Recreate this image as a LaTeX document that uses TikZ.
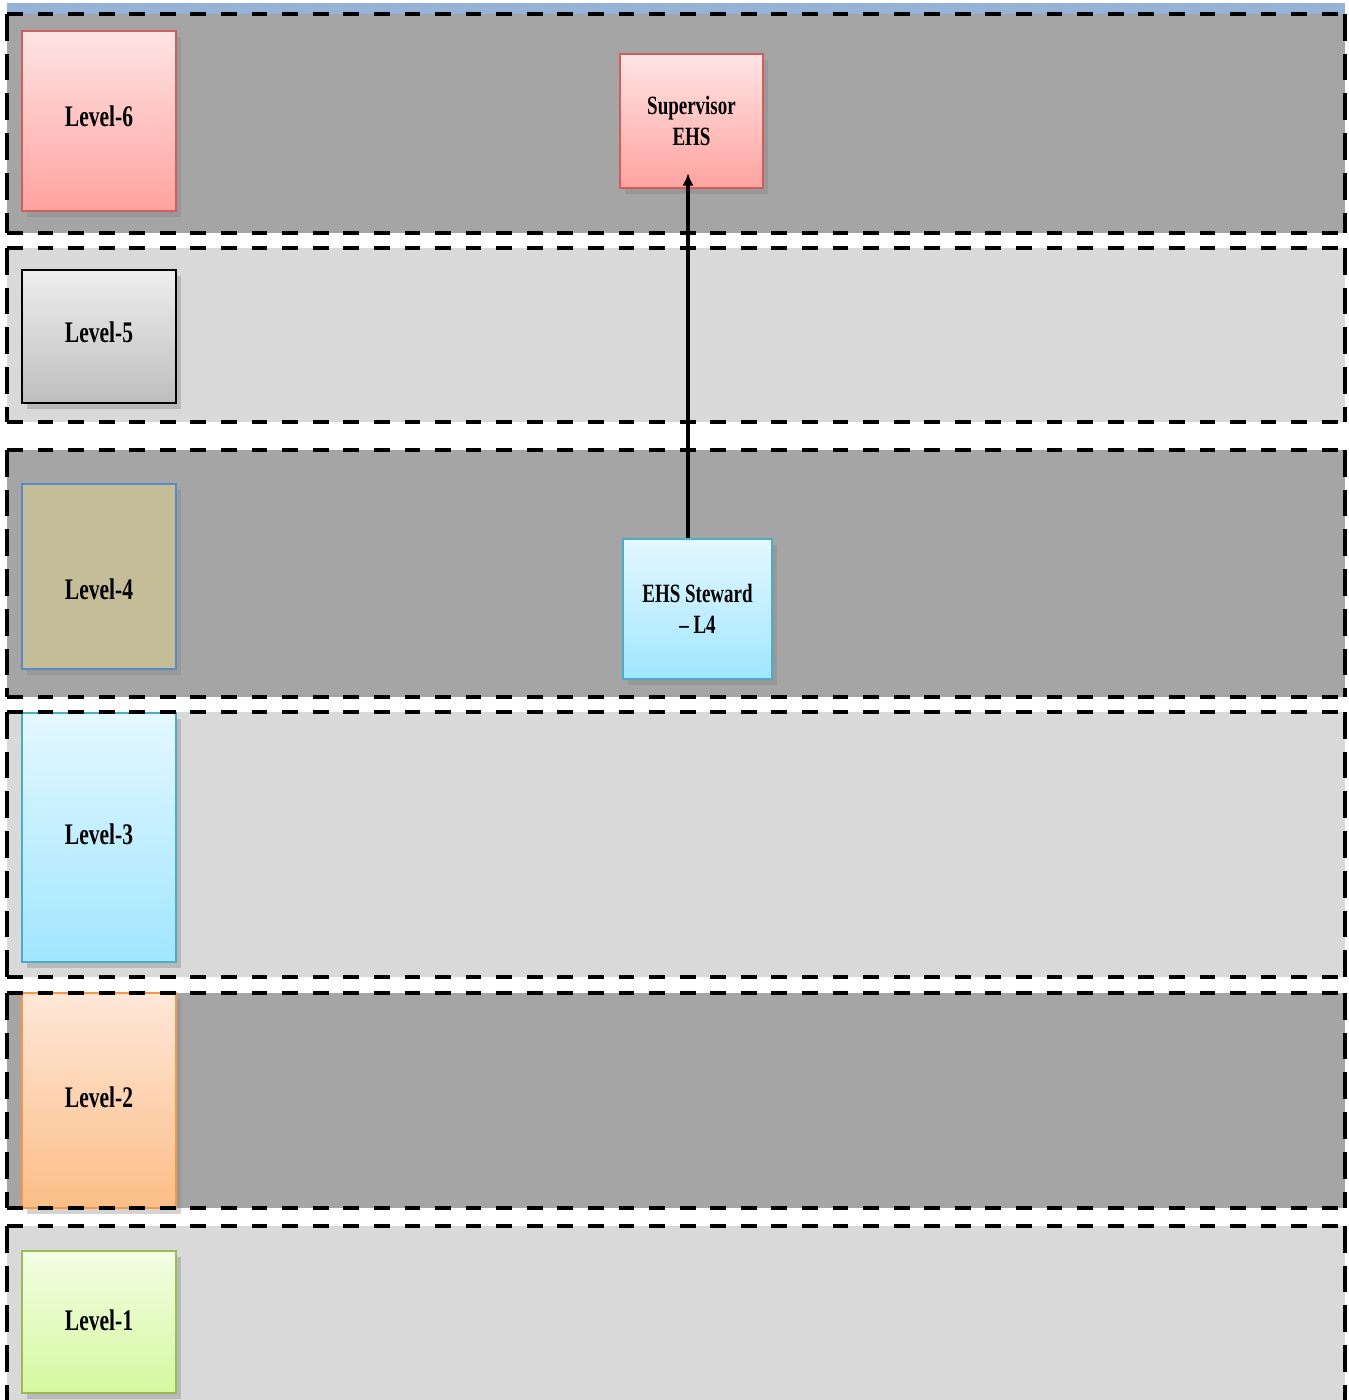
\documentclass[tikz,border=0pt]{standalone}
\usepackage{fontspec}
\setmainfont{Liberation Serif}[FakeStretch=0.72]
\usetikzlibrary{arrows.meta,shadows}

\definecolor{stripblue}{HTML}{95B3D7}
\definecolor{banddark}{HTML}{A5A5A5}
\definecolor{bandlight}{HTML}{D9D9D9}

\begin{document}
\begin{tikzpicture}[
	band hline/.style={draw=black,line width=1.4pt,dash pattern=on 4.5pt off 4.2pt},
	band vline/.style={draw=black,line width=1.1pt,dash pattern=on 7.6pt off 3.7pt},
	level node/.style={rectangle,thick,minimum width=1.54cm,font=\fontsize{8.5}{10}\selectfont\bfseries,
		drop shadow={opacity=0.35,shadow xshift=0.5mm,shadow yshift=-0.6mm}},
	role node/.style={rectangle,thick,align=center,font=\fontsize{7.5}{8.8}\selectfont\bfseries,
		drop shadow={opacity=0.35,shadow xshift=0.5mm,shadow yshift=-0.6mm}}
]

	\def \xl {0.07};
	\def \xr {13.45};

	\useasboundingbox (0,0) rectangle (13.48,14);
	\clip (0,0) rectangle (13.48,14);

	\fill[stripblue] (\xl,13.97) rectangle (\xr,13.86);

	% bands
	\foreach \t/\b/\c in {13.86/11.67/banddark, 11.52/9.78/bandlight, 9.50/7.03/banddark,
		6.88/4.23/bandlight, 4.07/1.92/banddark, 1.74/-0.2/bandlight} {
		\fill[\c] (\xl,\t) rectangle (\xr,\b);
	}

	% level boxes
	\foreach \i/\y/\h/\dy/\d/\tc/\bc in {
		6/12.79/1.80cm/0.045cm/{rgb,255:red,205;green,95;blue,92}/{rgb,255:red,255;green,228;blue,228}/{rgb,255:red,255;green,163;blue,160},
		5/10.635/1.33cm/0.04cm/black/{rgb,255:red,238;green,238;blue,238}/{rgb,255:red,190;green,190;blue,190},
		4/8.235/1.85cm/-0.13cm/{rgb,255:red,90;green,138;blue,198}/{rgb,255:red,196;green,189;blue,151}/{rgb,255:red,196;green,189;blue,151},
		3/5.625/2.49cm/0.03cm/{rgb,255:red,75;green,172;blue,198}/{rgb,255:red,228;green,248;blue,255}/{rgb,255:red,160;green,230;blue,255},
		2/2.995/2.15cm/0.03cm/{rgb,255:red,247;green,150;blue,70}/{rgb,255:red,255;green,231;blue,216}/{rgb,255:red,251;green,190;blue,135},
		1/0.78/1.42cm/0.02cm/{rgb,255:red,155;green,187;blue,89}/{rgb,255:red,242;green,254;blue,227}/{rgb,255:red,214;green,248;blue,160}} {
		\node[level node,draw=\d,top color=\tc,bottom color=\bc,minimum height=\h] (l\i) at (0.99,\y)
			{\raisebox{\dy}[\height][\depth]{Level-\i}};
	}

	\node[role node,draw={rgb,255:red,205;green,95;blue,92},top color={rgb,255:red,255;green,228;blue,228},
		bottom color={rgb,255:red,255;green,163;blue,160},minimum width=1.43cm,minimum height=1.34cm]
		(sup) at (6.915,12.79) {Supervisor\\EHS};
	\node[role node,draw={rgb,255:red,75;green,172;blue,198},top color={rgb,255:red,228;green,248;blue,255},
		bottom color={rgb,255:red,160;green,230;blue,255},minimum width=1.49cm,minimum height=1.40cm]
		(stew) at (6.975,7.91) {EHS Steward\\– L4};

	% dashed band outlines
	\foreach \t/\b in {13.86/11.67, 11.52/9.78, 9.50/7.03, 6.88/4.23, 4.07/1.92, 1.74/-0.2} {
		\draw[band hline] (\xl,\t) -- (\xr,\t) (\xl,\b) -- (\xr,\b);
		\draw[band vline] (\xl,\t) -- (\xl,\b) (\xr,\t) -- (\xr,\b);
	}

	\coordinate (tip) at (6.88,12.27);
	\draw[-{Latex[length=3.6pt,width=3.2pt]},line width=1.2pt] (stew.north -| tip) -- (tip);
\end{tikzpicture}
\end{document}
